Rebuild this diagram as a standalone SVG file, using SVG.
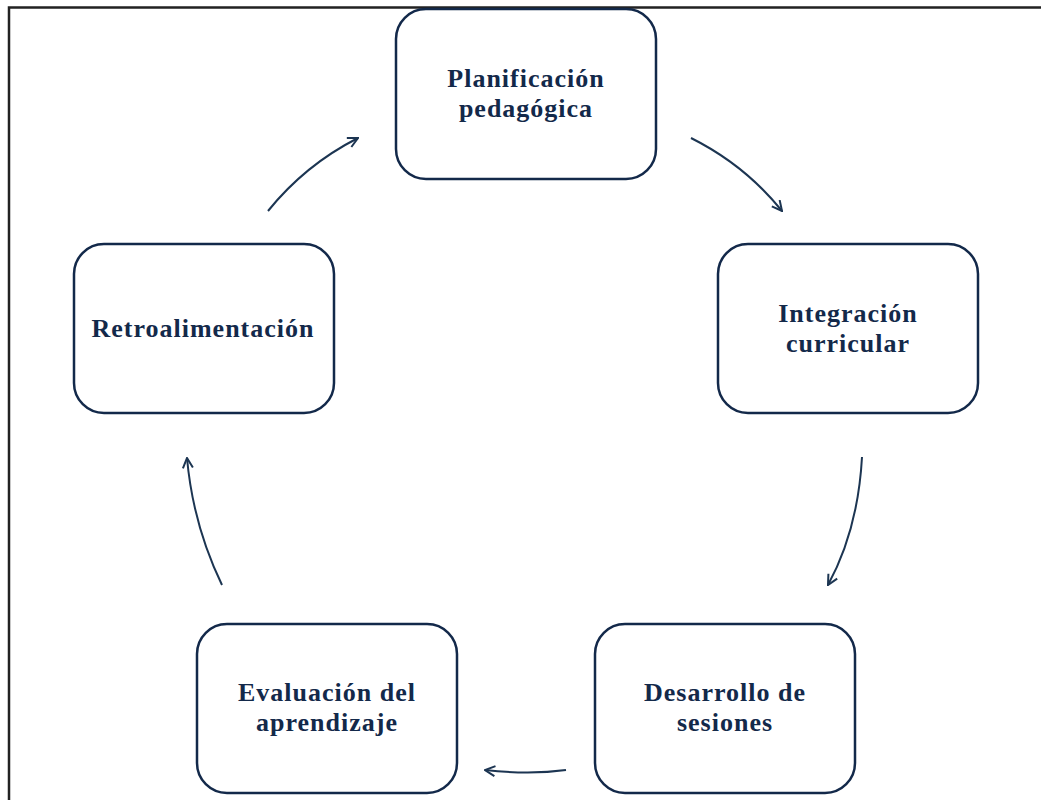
<svg xmlns="http://www.w3.org/2000/svg" width="1041" height="800" viewBox="0 0 1041 800">
<style>
.box{fill:#fff;stroke:#13294a;stroke-width:2.5}
.lbl{font-family:"Liberation Serif","Times New Roman",serif;font-weight:bold;font-size:26px;fill:#13294a;text-anchor:middle;letter-spacing:1px}
.con{fill:none;stroke:#1c3552;stroke-width:2;marker-end:url(#ah)}
</style>
<defs>
<marker id="ah" viewBox="0 0 12 12" refX="11" refY="6" markerWidth="12" markerHeight="12" markerUnits="userSpaceOnUse" orient="auto">
<path d="M1,1 L11,6 L1,11" fill="none" stroke="#1c3552" stroke-width="2"/>
</marker>
</defs>
<rect width="1041" height="800" fill="#fff"/>
<path d="M9,800 L9,7.5 L1041,7.5" fill="none" stroke="#222" stroke-width="2.5"/>
<g id="n1"><rect class="box" x="396" y="9" width="260" height="170" rx="30"/><text class="lbl" x="526" y="87">Planificación</text><text class="lbl" x="526" y="117">pedagógica</text></g>
<g id="n2"><rect class="box" x="718" y="244" width="260" height="169" rx="30"/><text class="lbl" x="848" y="322">Integración</text><text class="lbl" x="848" y="352">curricular</text></g>
<g id="n3"><rect class="box" x="595" y="624" width="260" height="169" rx="30"/><text class="lbl" x="725" y="701">Desarrollo de</text><text class="lbl" x="725" y="731">sesiones</text></g>
<g id="n4"><rect class="box" x="197" y="624" width="260" height="169" rx="30"/><text class="lbl" x="327" y="701">Evaluación del</text><text class="lbl" x="327" y="731">aprendizaje</text></g>
<g id="n5"><rect class="box" x="74" y="244" width="260" height="169" rx="30"/><text class="lbl" x="203" y="337">Retroalimentación</text></g>
<g id="connectors">
<path class="con" d="M691,138 Q745,165 782,211"/>
<path class="con" d="M862,457 Q858,530 828,585"/>
<path class="con" d="M566,770 Q530,775 485,770"/>
<path class="con" d="M222,585 Q193,525 187,458"/>
<path class="con" d="M268,211 Q305,165 358,138"/>
</g>
</svg>
